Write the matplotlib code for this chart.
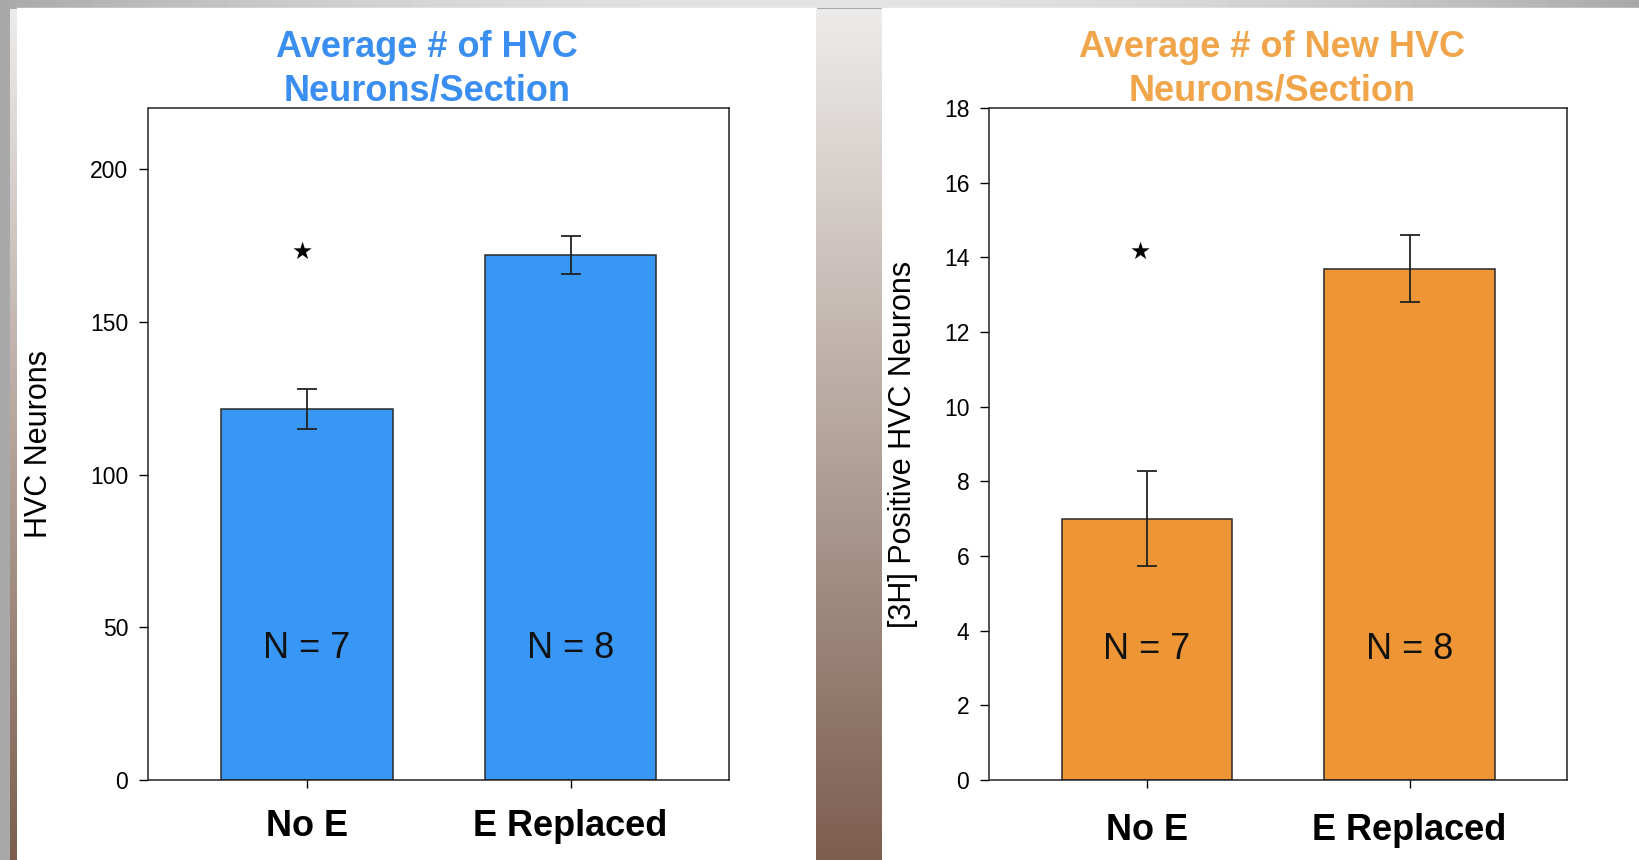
import numpy as np
import matplotlib
matplotlib.use("Agg")
import matplotlib.pyplot as plt
from matplotlib.patches import Rectangle

# ---- data ----
categories = ["No E", "E Replaced"]
sample_sizes = ["N = 7", "N = 8"]

hvc_means = [121.5, 172.0]
hvc_sem = [6.5, 6.2]

new_hvc_means = [7.0, 13.7]
new_hvc_sem = [1.27, 0.9]

plt.rcParams["font.family"] = ["Liberation Sans", "DejaVu Sans"]

W, H = 1640, 860
fig = plt.figure(figsize=(W / 100, H / 100), dpi=100)
fig.patch.set_facecolor("#a9a9a9")

# ---- slide backdrop: top band, white panels and shaded dividers ----
bg = fig.add_axes([0, 0, 1, 1], zorder=-10)
bg.set_xlim(0, W)
bg.set_ylim(H, 0)
bg.axis("off")

# top band: darker at the edges, light in the middle
xs = np.linspace(-1, 1, 400)
band = 0.66 + 0.23 * (1 - xs ** 2)
bg.imshow(np.tile(band, (2, 1)), cmap="gray", vmin=0, vmax=1,
          extent=(0, W, 8, 0), aspect="auto", zorder=0)

bg.add_patch(Rectangle((17, 8), 799, H - 8, color="white", zorder=1))
bg.add_patch(Rectangle((882, 8), W - 882, H - 8, color="white", zorder=1))

# vertical divider gradient (light grey to brown)
top_c = np.array([0.93, 0.925, 0.92])
bot_c = np.array([0.49, 0.37, 0.31])
t = np.linspace(0, 1, 300)[:, None]
grad = (1 - t) * top_c + t * bot_c
grad_img = np.repeat(grad[:, None, :], 2, axis=1)
bg.imshow(grad_img, extent=(816, 882, H, 9), aspect="auto", zorder=2)
bg.imshow(grad_img, extent=(10, 17, H, 9), aspect="auto", zorder=2)


def draw_panel(rect, means, errs, color, ylim, yticks, ylabel, title,
               title_color, star_y, n_y, title_x, label_pad, ylabel_x,
               star_dx):
    ax = fig.add_axes(rect)
    x = np.arange(len(categories))
    ax.bar(x, means, width=0.65, color=color, edgecolor="#2a2a2a",
           linewidth=1.1, zorder=2)
    ax.errorbar(x, means, yerr=errs, fmt="none", ecolor="#222222",
                elinewidth=1.3, capsize=7, capthick=1.3, zorder=3)
    ax.set_xlim(-0.6, 1.6)
    ax.set_ylim(*ylim)
    ax.set_yticks(yticks)
    ax.set_yticklabels([str(v) for v in yticks], fontsize=16.5)
    ax.set_xticks(x)
    ax.set_xticklabels(categories, fontsize=26, fontweight="bold")
    ax.tick_params(axis="x", direction="out", length=6, width=1,
                   pad=label_pad)
    ax.tick_params(axis="y", direction="out", length=6.5, width=1, pad=8)
    for sp in ax.spines.values():
        sp.set_linewidth(1.1)
        sp.set_color("#222222")
    ax.set_ylabel(ylabel, fontsize=22)
    ax.yaxis.set_label_coords(ylabel_x, 0.5)
    ax.text(title_x, 1.058, title, transform=ax.transAxes, ha="center",
            va="center", fontsize=26, fontweight="bold", color=title_color,
            linespacing=1.32)
    ax.text(star_dx, star_y, "★", ha="center", va="center", fontsize=17,
            family="DejaVu Sans", color="black")
    for xi, lab in zip(x, sample_sizes):
        ax.text(xi, n_y, lab, ha="center", va="center", fontsize=26,
                color="#111111")
    return ax


draw_panel([148.5 / W, 80 / H, 580.5 / W, 672 / H], hvc_means, hvc_sem,
           "#3896f5", (0, 220), [0, 50, 100, 150, 200], "HVC Neurons",
           "Average # of HVC\nNeurons/Section", "#3a8ef0",
           star_y=173, n_y=43, title_x=0.48, label_pad=15, ylabel_x=-0.163,
           star_dx=-0.02)

draw_panel([989.5 / W, 80 / H, 577.5 / W, 672 / H], new_hvc_means,
           new_hvc_sem, "#ee9535", (0, 18), list(range(0, 19, 2)),
           "[3H] Positive HVC Neurons",
           "Average # of New HVC\nNeurons/Section", "#f0a54a",
           star_y=14.15, n_y=3.5, title_x=0.49, label_pad=18, ylabel_x=-0.124,
           star_dx=-0.025)

fig.savefig("out.png", dpi=100, facecolor=fig.get_facecolor())
